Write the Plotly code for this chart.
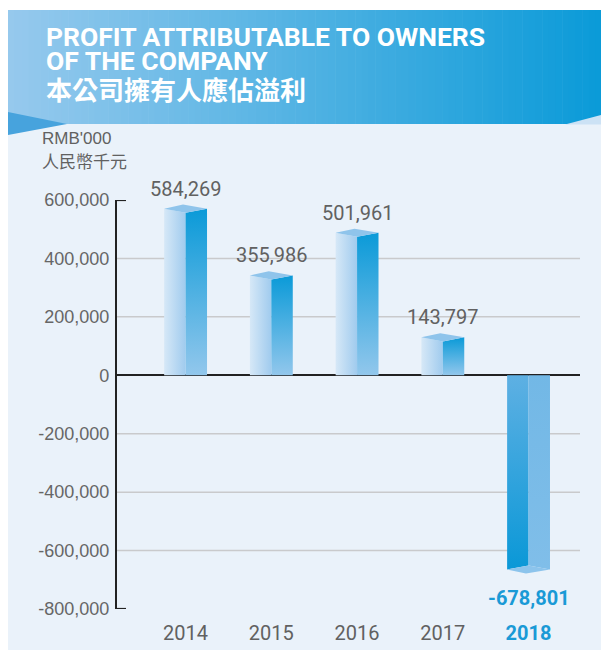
import plotly.graph_objects as go

# ---- data ----
years = ["2014", "2015", "2016", "2017", "2018"]
profits = [584269, 355986, 501961, 143797, -678801]
y_ticks = [600000, 400000, 200000, 0, -200000, -400000, -600000, -800000]
y_tick_text = ["600,000", "400,000", "200,000", "0", "-200,000", "-400,000", "-600,000", "-800,000"]
unit_en = "RMB'000"
unit_zh = "人民幣千元"
title_lines = ["PROFIT ATTRIBUTABLE TO OWNERS", "OF THE COMPANY"]
title_zh = "本公司擁有人應佔溢利"

# the page body has an 8px margin; figure is placed at (8, 8) in the window
OFF = 8
W, H = 609 - OFF, 650 - OFF
def px(x):
    return (x - OFF) / W
def py(y):
    return 1 - (y - OFF) / H

GRAY = "#616161"
BLUE = "#1A9AD6"

fig = go.Figure()

half = 0.25       # half bar width in category units
cap1 = 14000      # cap geometry (value units)
cap2 = 28000

for i, v in enumerate(profits):
    c = i
    s = 1 if v >= 0 else -1
    side = v - s * cap1
    front = v - s * cap2
    if s > 0:
        lf = dict(type="horizontal", colorscale=[[0, "#D6E8F7"], [1, "#A0CBEE"]])
        rf = dict(type="vertical", colorscale=[[0, "#92C7EC"], [1, "#0A9AD8"]])
        capc = "#8FC4EB"
    else:
        lf = dict(type="vertical", colorscale=[[0, "#0A98D7"], [1, "#5EB0E3"]])
        rf = dict(type="vertical", colorscale=[[0, "#80BEE9"], [1, "#72B8E6"]])
        capc = "#8CC4EC"
    fig.add_trace(go.Scatter(
        x=[c - half, c - half, c, c, c - half], y=[0, side, front, 0, 0],
        fill="toself", fillgradient=lf, mode="lines", line=dict(width=0),
        hoverinfo="skip", showlegend=False))
    fig.add_trace(go.Scatter(
        x=[c, c, c + half, c + half, c], y=[0, front, side, 0, 0],
        fill="toself", fillgradient=rf, mode="lines", line=dict(width=0),
        hoverinfo="skip", showlegend=False))
    fig.add_trace(go.Scatter(
        x=[c - half, c - 0.12 * half, c + half, c, c - half], y=[side, v, side, front, side],
        fill="toself", fillcolor=capc, mode="lines", line=dict(width=0),
        hoverinfo="skip", showlegend=False))

# value labels
for i, v in enumerate(profits):
    if v >= 0:
        fig.add_annotation(x=i, y=v, text=f"{v:,}", showarrow=False, yanchor="middle",
                           yshift=16, font=dict(family="Roboto", size=20, color=GRAY))
    else:
        fig.add_annotation(x=i, y=v, text=f"<b>{v:,}</b>", showarrow=False, yanchor="middle",
                           yshift=-24, font=dict(family="Roboto", size=20, color=BLUE))

shapes = []
shapes.append(dict(type="rect", xref="paper", yref="paper", x0=px(8), x1=1, y0=0, y1=py(124),
                   fillcolor="#EAF2FA", line=dict(width=0), layer="below"))
n = 90
c0 = (150, 201, 237)
c1 = (9, 154, 216)
x_start, x_end = 8, 609
for k in range(n):
    t = k / (n - 1)
    col = tuple(round(c0[j] + (c1[j] - c0[j]) * t) for j in range(3))
    xa = x_start + (x_end - x_start) * k / n
    xb = x_start + (x_end - x_start) * (k + 1) / n + 0.6
    shapes.append(dict(type="rect", xref="paper", yref="paper", x0=px(xa), x1=px(min(xb, 609)),
                       y0=py(124), y1=py(10), fillcolor="rgb(%d,%d,%d)" % col,
                       line=dict(width=0), layer="below"))
shapes.append(dict(type="path", xref="paper", yref="paper",
                   path="M %f %f L %f %f L %f %f Z" % (px(8), py(112), px(67), py(124), px(8), py(135)),
                   fillcolor="#47A3DD", line=dict(width=0), layer="below"))
shapes.append(dict(type="path", xref="paper", yref="paper",
                   path="M %f %f L %f %f L %f %f Z" % (px(565), py(124.5), px(609), py(113), px(609), py(124.5)),
                   fillcolor="#CCE2F5", line=dict(width=0), layer="below"))
for t in y_ticks[1:-1]:
    if t == 0:
        continue
    shapes.append(dict(type="line", xref="paper", yref="y", x0=px(117), x1=px(580), y0=t, y1=t,
                       line=dict(color="#C9CACC", width=1.5), layer="below"))
for t in (y_ticks[0], y_ticks[-1]):
    shapes.append(dict(type="line", xref="paper", yref="y", x0=px(116), x1=px(126), y0=t, y1=t,
                       line=dict(color="#222222", width=2.2), layer="above"))

fig.add_annotation(xref="paper", yref="paper", x=px(44), y=py(36), xanchor="left", yanchor="middle",
                   text="<b>%s</b>" % title_lines[0], showarrow=False,
                   font=dict(family="Roboto", size=26.5, color="white"))
fig.add_annotation(xref="paper", yref="paper", x=px(44), y=py(60), xanchor="left", yanchor="middle",
                   text="<b>%s</b>" % title_lines[1], showarrow=False,
                   font=dict(family="Roboto", size=26.5, color="white"))
fig.add_annotation(xref="paper", yref="paper", x=px(44), y=py(88), xanchor="left", yanchor="middle",
                   text="<b>%s</b>" % title_zh, showarrow=False,
                   font=dict(family="Noto Sans CJK TC", size=26, color="white"))
fig.add_annotation(xref="paper", yref="paper", x=px(40), y=py(139), xanchor="left", yanchor="middle",
                   text=unit_en, showarrow=False,
                   font=dict(family="Liberation Sans", size=17, color=GRAY))
fig.add_annotation(xref="paper", yref="paper", x=px(40), y=py(160), xanchor="left", yanchor="middle",
                   text=unit_zh, showarrow=False,
                   font=dict(family="Noto Sans CJK TC", size=17, color=GRAY))

tick_text_x = [y for y in years[:-1]] + ['<b><span style="color:%s">%s</span></b>' % (BLUE, years[-1])]

fig.update_layout(
    width=W, height=H,
    margin=dict(l=0, r=0, t=0, b=0, pad=0, autoexpand=False),
    paper_bgcolor="white",
    plot_bgcolor="rgba(0,0,0,0)",
    shapes=shapes,
    showlegend=False,
    xaxis=dict(domain=[px(117), px(580)], range=[-0.8, 4.6], tickvals=list(range(len(years))),
               ticktext=tick_text_x, showgrid=False, zeroline=False, showline=False, ticks="",
               ticklabelstandoff=10, tickfont=dict(family="Roboto", size=20, color=GRAY),
               fixedrange=True, automargin=False),
    yaxis=dict(domain=[py(609), py(200)], range=[-800000, 600000], tickvals=y_ticks,
               ticktext=y_tick_text, showgrid=False, zeroline=True, zerolinecolor="#222222",
               zerolinewidth=2, showline=True, linecolor="#222222", linewidth=2.2, ticks="",
               ticklabelstandoff=2, tickfont=dict(family="Liberation Sans", size=18, color="#666666"),
               fixedrange=True, automargin=False),
)

fig.write_html("out.html")
